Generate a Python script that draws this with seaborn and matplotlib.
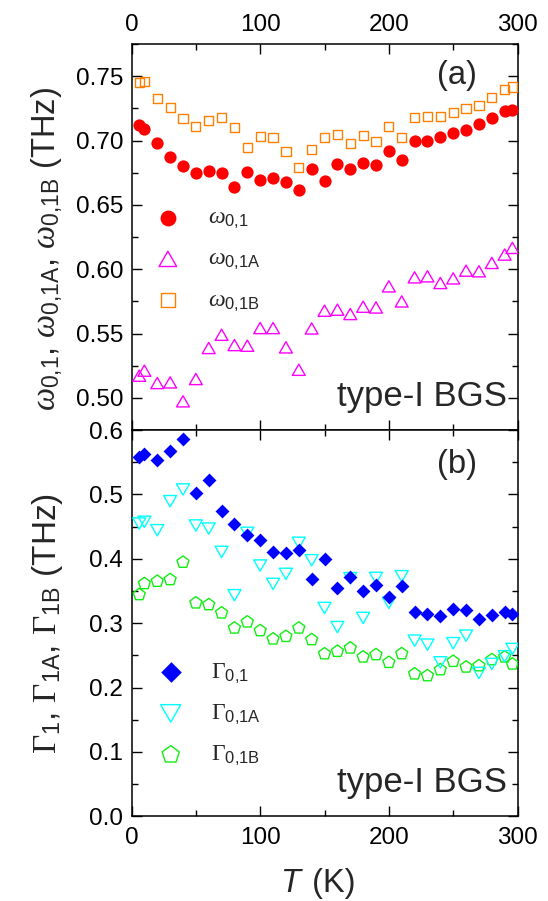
import numpy as np
import pandas as pd
import seaborn as sns
import matplotlib
matplotlib.use("Agg")
import matplotlib.pyplot as plt
from matplotlib.path import Path
from matplotlib.ticker import MultipleLocator, FormatStrFormatter

# Temperatures (K)
temperature = [6, 10, 20, 30, 40, 50, 60, 70, 80, 90, 100, 110, 120, 130, 140,
               150, 160, 170, 180, 190, 200, 210, 220, 230, 240, 250, 260, 270,
               280, 290, 296]

# Mode frequencies (THz)
omega_01 = [0.7117, 0.7088, 0.6977, 0.6870, 0.6800, 0.6746, 0.6767, 0.6746,
            0.6642, 0.6759, 0.6697, 0.6707, 0.6676, 0.6619, 0.6780, 0.6688,
            0.6815, 0.6780, 0.6826, 0.6811, 0.6920, 0.6850, 0.7000, 0.7000,
            0.7031, 0.7057, 0.7083, 0.7130, 0.7176, 0.7233, 0.7240]
omega_01A = [0.5173, 0.5212, 0.5116, 0.5121, 0.4974, 0.5147, 0.5388, 0.5491,
             0.5411, 0.5406, 0.5543, 0.5543, 0.5393, 0.5219, 0.5540, 0.5678,
             0.5686, 0.5652, 0.5709, 0.5703, 0.5867, 0.5750, 0.5937, 0.5945,
             0.5893, 0.5929, 0.5989, 0.5984, 0.6049, 0.6114, 0.6166]
omega_01B = [0.7449, 0.7459, 0.7329, 0.7259, 0.7174, 0.7111, 0.7156, 0.7181,
             0.7104, 0.6948, 0.7034, 0.7026, 0.6914, 0.6793, 0.6928, 0.7024,
             0.7047, 0.6979, 0.7036, 0.6995, 0.7109, 0.7026, 0.7176, 0.7187,
             0.7187, 0.7220, 0.7251, 0.7272, 0.7337, 0.7394, 0.7415]

# Damping rates (THz)
gamma_01 = [0.5586, 0.5622, 0.5529, 0.5674, 0.5855, 0.5016, 0.5223, 0.4751,
            0.4549, 0.4367, 0.4300, 0.4108, 0.4093, 0.4134, 0.3689, 0.3995,
            0.3555, 0.3720, 0.3497, 0.3600, 0.3409, 0.3574, 0.3175, 0.3150,
            0.3108, 0.3227, 0.3200, 0.3071, 0.3134, 0.3175, 0.3144]
gamma_01A = [0.4549, 0.4575, 0.4445, 0.4896, 0.5078, 0.4518, 0.4471, 0.4108,
             0.3435, 0.4404, 0.3896, 0.3611, 0.3767, 0.4249, 0.3978, 0.3237,
             0.2940, 0.3700, 0.3082, 0.3704, 0.3316, 0.3730, 0.2729, 0.2667,
             0.2392, 0.2690, 0.2807, 0.2227, 0.2367, 0.2486, 0.2600]
gamma_01B = [0.3445, 0.3616, 0.3652, 0.3678, 0.3948, 0.3316, 0.3289, 0.3160,
             0.2926, 0.3020, 0.2885, 0.2756, 0.2796, 0.2926, 0.2745, 0.2525,
             0.2563, 0.2615, 0.2476, 0.2512, 0.2392, 0.2527, 0.2213, 0.2185,
             0.2278, 0.2408, 0.2320, 0.2340, 0.2434, 0.2476, 0.2367]

x_ticks = [0, 100, 200, 300]
omega_ticks = [0.50, 0.55, 0.60, 0.65, 0.70, 0.75]
gamma_ticks = [0.0, 0.1, 0.2, 0.3, 0.4, 0.5, 0.6]

df = pd.DataFrame({
    "T": temperature,
    "w01": omega_01, "w01A": omega_01A, "w01B": omega_01B,
    "g01": gamma_01, "g01A": gamma_01A, "g01B": gamma_01B,
})

sns.set_theme(style="ticks")
plt.rcParams["font.family"] = ["Liberation Sans", "DejaVu Sans"]
plt.rcParams["mathtext.fontset"] = "custom"
plt.rcParams["mathtext.rm"] = "Liberation Serif"
plt.rcParams["mathtext.it"] = "Liberation Serif:italic"
plt.rcParams["mathtext.sf"] = "Liberation Sans"
plt.rcParams["axes.linewidth"] = 1.1

# Slightly flattened triangles (equilateral look)
tri_up = Path([(-1.15, -1.0), (1.15, -1.0), (0.0, 1.0), (-1.15, -1.0)],
              [Path.MOVETO, Path.LINETO, Path.LINETO, Path.CLOSEPOLY])
tri_down = Path([(-1.15, 1.0), (1.15, 1.0), (0.0, -1.0), (-1.15, 1.0)],
                [Path.MOVETO, Path.LINETO, Path.LINETO, Path.CLOSEPOLY])

RED, ORANGE, MAGENTA = "#FF0000", "#FF8000", "#FF00FF"
BLUE, CYAN, GREEN = "#0000FF", "#00FFFF", "#11EE11"

fig = plt.figure(figsize=(5.48, 9.01), dpi=100)
ax1 = fig.add_axes([0.24, 0.5226, 0.7044, 0.4286])
ax2 = fig.add_axes([0.24, 0.0940, 0.7044, 0.4286])

# ---- panel (a): frequencies ----
sns.scatterplot(data=df, x="T", y="w01B", ax=ax1, marker="s", s=44,
                facecolor="none", edgecolor=ORANGE, linewidth=1.0,
                label=r"$\omega_{\mathsf{0{,}1B}}$", zorder=3)
sns.scatterplot(data=df, x="T", y="w01A", ax=ax1, marker=tri_up, s=86,
                facecolor="none", edgecolor=MAGENTA, linewidth=1.0,
                label=r"$\omega_{\mathsf{0{,}1A}}$", zorder=3)
sns.scatterplot(data=df, x="T", y="w01", ax=ax1, marker="o", s=78,
                color=RED, edgecolor=RED, linewidth=0,
                label=r"$\omega_{\mathsf{0{,}1}}$", zorder=4)

# ---- panel (b): damping ----
sns.scatterplot(data=df, x="T", y="g01B", ax=ax2, marker="p", s=82,
                facecolor="none", edgecolor=GREEN, linewidth=1.0,
                label=r"$\Gamma_{\mathsf{0{,}1B}}$", zorder=3)
sns.scatterplot(data=df, x="T", y="g01A", ax=ax2, marker=tri_down, s=88,
                facecolor="none", edgecolor=CYAN, linewidth=1.0,
                label=r"$\Gamma_{\mathsf{0{,}1A}}$", zorder=3)
sns.scatterplot(data=df, x="T", y="g01", ax=ax2, marker="D", s=50,
                color=BLUE, edgecolor=BLUE, linewidth=0,
                label=r"$\Gamma_{\mathsf{0{,}1}}$", zorder=4)

for ax in (ax1, ax2):
    ax.set_xlim(0, 300)
    ax.set_xticks(x_ticks)
    ax.xaxis.set_minor_locator(MultipleLocator(50))
    ax.tick_params(which="both", direction="in", top=True, right=True,
                   labelsize=17.5, width=1.0, colors="black", pad=6)
    ax.tick_params(which="major", length=7)
    ax.tick_params(which="minor", length=4)
    for sp in ax.spines.values():
        sp.set_color("black")
        sp.set_linewidth(1.1)

ax1.set_ylim(0.475, 0.775)
ax1.set_yticks(omega_ticks)
ax1.yaxis.set_minor_locator(MultipleLocator(0.025))
ax1.yaxis.set_major_formatter(FormatStrFormatter("%.2f"))
ax1.tick_params(axis="x", labeltop=True, labelbottom=False)
ax1.set_xlabel("")

ax2.set_ylim(0.0, 0.6)
ax2.set_yticks(gamma_ticks)
ax2.yaxis.set_minor_locator(MultipleLocator(0.05))
ax2.yaxis.set_major_formatter(FormatStrFormatter("%.1f"))
ax2.tick_params(axis="x", pad=8)
ax2.set_xlabel("")

ax1.set_ylabel(r"$\omega_{\mathsf{0{,}1}}$, $\omega_{\mathsf{0{,}1A}}$, "
               r"$\omega_{\mathsf{0{,}1B}}$ (THz)", fontsize=23.5)
ax2.set_ylabel(r"$\Gamma_{\mathsf{1}}$, $\Gamma_{\mathsf{1A}}$, "
               r"$\Gamma_{\mathsf{1B}}$ (THz)", fontsize=24)
ax1.yaxis.set_label_coords(-0.172, 0.47)
ax2.yaxis.set_label_coords(-0.172, 0.5)

# x label with italic T
fig.text(0.548, 0.0095, "T", fontsize=23.5, fontstyle="italic", ha="right",
         va="baseline")
fig.text(0.553, 0.0095, " (K)", fontsize=23.5, ha="left", va="baseline")

# panel tags and sample name
ax1.text(0.8425, 0.918, "(a)", transform=ax1.transAxes, fontsize=23.5,
         ha="center", va="center")
ax2.text(0.8425, 0.911, "(b)", transform=ax2.transAxes, fontsize=23.5,
         ha="center", va="center")
ax1.text(0.972, 0.062, "type-I BGS", transform=ax1.transAxes, fontsize=25,
         ha="right", va="baseline")
ax2.text(0.972, 0.062, "type-I BGS", transform=ax2.transAxes, fontsize=25,
         ha="right", va="baseline")

# legends in listed order
def put_legend(ax, order, anchor, sizes):
    handles, labels = ax.get_legend_handles_labels()
    handles = [handles[i] for i in order]
    labels = [labels[i] for i in order]
    leg = ax.legend(handles, labels, loc="center left", bbox_to_anchor=anchor,
                    frameon=False, fontsize=17, handlelength=1.0,
                    handletextpad=1.2, labelspacing=0.72, borderpad=0,
                    borderaxespad=0, scatterpoints=1)
    for h, s in zip(leg.legend_handles, sizes):
        h.set_sizes([s])
    return leg

put_legend(ax1, [2, 1, 0], (0.0635, 0.440), [130, 160, 100])
put_legend(ax2, [2, 1, 0], (0.071, 0.263), [110, 210, 170])

fig.savefig("out.png", dpi=100)
